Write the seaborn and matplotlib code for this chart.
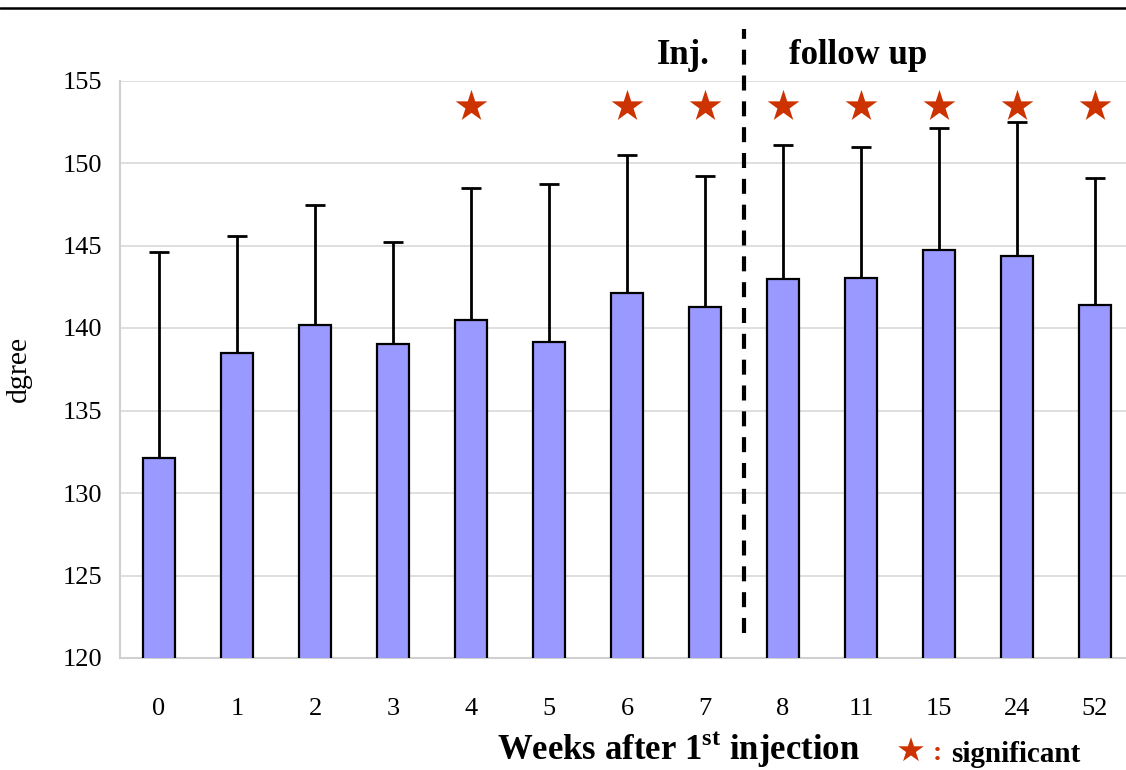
import matplotlib
matplotlib.use('Agg')
import matplotlib.pyplot as plt
from matplotlib.lines import Line2D
import seaborn as sns
import numpy as np
import pandas as pd

weeks = ['0', '1', '2', '3', '4', '5', '6', '7', '8', '11', '15', '24', '52']
means = [132.1, 138.5, 140.2, 139.05, 140.5, 139.15, 142.1, 141.3, 142.95, 143.05, 144.7, 144.35, 141.4]
upper = [144.6, 145.6, 147.45, 145.2, 148.5, 148.7, 150.5, 149.2, 151.1, 150.95, 152.15, 152.5, 149.1]
significant = ['4', '6', '7', '8', '11', '15', '24', '52']
star_level = 153.45

sns.set_style('white')
plt.rcParams['font.family'] = ['Liberation Serif', 'DejaVu Sans']
plt.rcParams['mathtext.fontset'] = 'custom'
plt.rcParams['mathtext.rm'] = 'Liberation Serif'
plt.rcParams['mathtext.bf'] = 'Liberation Serif:bold'
plt.rcParams['text.color'] = 'black'
plt.rcParams['axes.labelcolor'] = 'black'
plt.rcParams['xtick.labelcolor'] = 'black'
plt.rcParams['ytick.labelcolor'] = 'black'

df = pd.DataFrame({'week': weeks, 'mean': means, 'upper': upper})

fig = plt.figure(figsize=(11.26, 7.7), dpi=100)
ax = fig.add_axes([120 / 1126, 112 / 770, 1014 / 1126, 577.5 / 770])

# error bars (upper side only), drawn under the bars
err = np.array(upper) - np.array(means)
ax.errorbar(np.arange(len(weeks)), means, yerr=[np.zeros(len(err)), err],
            fmt='none', ecolor='black', elinewidth=2, capsize=7, capthick=2, zorder=2)

sns.barplot(data=df, x='week', y='mean', color='#9999ff', width=0.41,
            edgecolor='black', linewidth=1.6, saturation=1, ax=ax, zorder=3)

# significance stars
sig_x = [weeks.index(w) for w in significant]
ax.scatter(sig_x, [star_level] * len(sig_x), marker='*', s=24 ** 2,
           color='#cc3300', linewidths=0, zorder=4, clip_on=False)

# separator between injection and follow-up
ax.plot([7.5, 7.5], [121.5, 158.1], color='black', lw=3,
        linestyle=(0, (3.6, 2.6)), clip_on=False, zorder=5)

ax.set_ylim(120, 155)
ax.set_xlim(-0.5, 12.5)
ax.set_yticks(np.arange(120, 156, 5))
ax.yaxis.grid(True, color='#d9d9d9', lw=1.2)
ax.set_axisbelow(True)
for s in ['top', 'right']:
    ax.spines[s].set_visible(False)
for s in ['left', 'bottom']:
    ax.spines[s].set_color('#d0d0d0')
    ax.spines[s].set_linewidth(1.5)

ax.tick_params(axis='x', length=0, labelsize=19, pad=29)
ax.tick_params(axis='y', direction='in', length=8, color='#d0d0d0',
               labelsize=19, pad=13)
ax.set_xticks(np.arange(0.5, 12, 1), minor=True)
ax.tick_params(axis='x', which='minor', direction='in', length=7,
               color='#d0d0d0', width=1.2)

ax.set_xlabel('')
ax.set_ylabel('dgree', fontsize=21.5)
ax.yaxis.set_label_coords(-0.087, 0.5)

fig.text(678 / 1126, 1 - 750 / 770, r'Weeks after 1$^{\mathbf{st}}$ injection',
         ha='center', va='center', fontsize=25, fontweight='bold')
fig.text(683 / 1126, 1 - 55 / 770, 'Inj.', ha='center', va='center',
         fontsize=25, fontweight='bold')
fig.text(858 / 1126, 1 - 55 / 770, 'follow up', ha='center', va='center',
         fontsize=25, fontweight='bold')

fig.text(911 / 1126, 1 - 752 / 770, '★', ha='center', va='center',
         fontsize=24, color='#cc3300', family=['DejaVu Sans'])
fig.text(937 / 1126, 1 - 754 / 770, ':', ha='center', va='center',
         fontsize=20, color='#cc3300', fontweight='bold')
fig.text(951 / 1126, 1 - 754 / 770, 'significant', ha='left', va='center',
         fontsize=21, fontweight='bold')

fig.add_artist(Line2D([0, 1], [1 - 8 / 770, 1 - 8 / 770], color='black', lw=1.8))

fig.savefig('out.png', dpi=100)
